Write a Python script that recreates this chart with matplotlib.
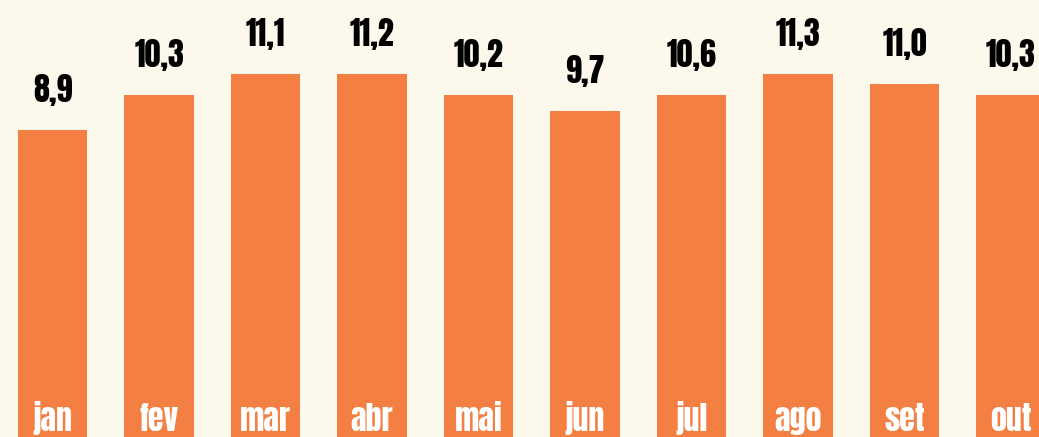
import matplotlib
matplotlib.use("Agg")
import matplotlib.pyplot as plt

months = ["jan", "fev", "mar", "abr", "mai", "jun", "jul", "ago", "set", "out"]
bar_values = [8.9, 10.27, 11.1, 11.1, 10.27, 9.65, 10.27, 11.1, 10.71, 10.27]
value_labels = ["8,9", "10,3", "11,1", "11,2", "10,2", "9,7", "10,6", "11,3", "11,0", "10,3"]

BG = "#FCF8EC"
BAR = "#F47F43"
fam = ["Anton", "DejaVu Sans"]

fig = plt.figure(figsize=(10.39, 4.37), dpi=100, facecolor=BG)
ax = fig.add_axes([0, 0, 1, 1])
ax.set_facecolor(BG)

ymin, ymax = -3.16, 14.0
x = list(range(len(months)))
ax.bar(x, [v - ymin for v in bar_values], bottom=ymin, width=0.65, color=BAR)
ax.set_xlim(-0.493, 9.263)
ax.set_ylim(ymin, ymax)

for xi, v, lab, m in zip(x, bar_values, value_labels, months):
    ax.annotate(lab, (xi, v), xytext=(0, 20), textcoords="offset points",
                ha="center", va="baseline", fontsize=23,
                family=fam, color="black")
    ax.annotate(m, (xi, ymin), xytext=(0, 4), textcoords="offset points",
                ha="center", va="baseline", fontsize=23,
                family=fam, color="white")

ax.axis("off")
fig.savefig("out.png", dpi=100, facecolor=BG)
